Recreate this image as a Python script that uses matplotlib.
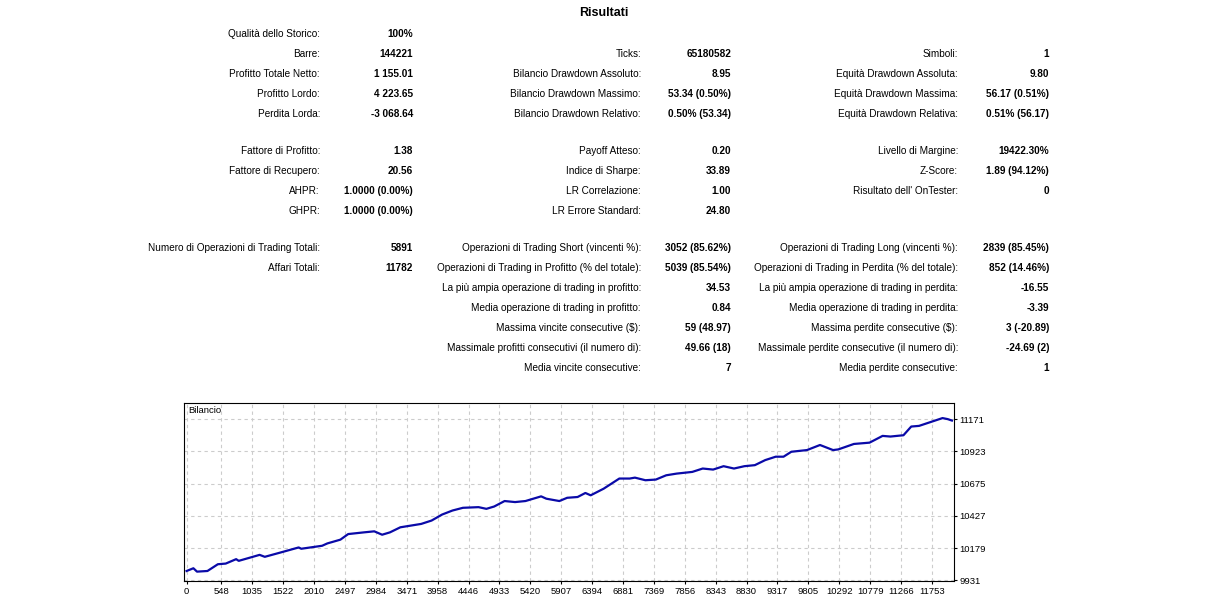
import matplotlib.pyplot as plt

plt.rcParams['font.family'] = ['Liberation Sans', 'DejaVu Sans']

# rows of the report
row_y = [34, 54, 74, 94, 114, 151, 171, 191, 211]
col1 = [("Qualità dello Storico:", "100%"), ("Barre:", "144221"), ("Profitto Totale Netto:", "1 155.01"),
        ("Profitto Lordo:", "4 223.65"), ("Perdita Lorda:", "-3 068.64"), ("Fattore di Profitto:", "1.38"),
        ("Fattore di Recupero:", "20.56"), ("AHPR:", "1.0000 (0.00%)"), ("GHPR:", "1.0000 (0.00%)")]
col2 = [None, ("Ticks:", "65180582"), ("Bilancio Drawdown Assoluto:", "8.95"),
        ("Bilancio Drawdown Massimo:", "53.34 (0.50%)"), ("Bilancio Drawdown Relativo:", "0.50% (53.34)"),
        ("Payoff Atteso:", "0.20"), ("Indice di Sharpe:", "33.89"), ("LR Correlazione:", "1.00"),
        ("LR Errore Standard:", "24.80")]
col3 = [None, ("Simboli:", "1"), ("Equità Drawdown Assoluta:", "9.80"),
        ("Equità Drawdown Massima:", "56.17 (0.51%)"), ("Equità Drawdown Relativa:", "0.51% (56.17)"),
        ("Livello di Margine:", "19422.30%"), ("Z-Score:", "1.89 (94.12%)"), ("Risultato dell' OnTester:", "0"),
        None]

row_y2 = [248, 268, 288, 308, 328, 348, 368]
col1b = [("Numero di Operazioni di Trading Totali:", "5891"), ("Affari Totali:", "11782"),
         None, None, None, None, None]
col2b = [("Operazioni di Trading Short (vincenti %):", "3052 (85.62%)"),
         ("Operazioni di Trading in Profitto (% del totale):", "5039 (85.54%)"),
         ("La più ampia operazione di trading in profitto:", "34.53"),
         ("Media operazione di trading in profitto:", "0.84"),
         ("Massima vincite consecutive ($):", "59 (48.97)"),
         ("Massimale profitti consecutivi (il numero di):", "49.66 (18)"),
         ("Media vincite consecutive:", "7")]
col3b = [("Operazioni di Trading Long (vincenti %):", "2839 (85.45%)"),
         ("Operazioni di Trading in Perdita (% del totale):", "852 (14.46%)"),
         ("La più ampia operazione di trading in perdita:", "-16.55"),
         ("Media operazione di trading in perdita:", "-3.39"),
         ("Massima perdite consecutive ($):", "3 (-20.89)"),
         ("Massimale perdite consecutive (il numero di):", "-24.69 (2)"),
         ("Media perdite consecutive:", "1")]

# balance curve (deal number, balance)
deals = [0, 107, 164, 329, 493, 617, 781, 822, 1151, 1233, 1480, 1767, 1808, 2137, 2219, 2425, 2548,
         2795, 2959, 3083, 3206, 3370, 3699, 3863, 4028, 4192, 4357, 4603, 4727, 4850, 5014, 5179,
         5343, 5590, 5672, 5877, 6001, 6165, 6288, 6371, 6576, 6823, 6987, 7069, 7234, 7398, 7562,
         7727, 7973, 8138, 8302, 8467, 8631, 8795, 8960, 9124, 9289, 9412, 9535, 9782, 9987, 10193,
         10275, 10522, 10768, 10974, 11097, 11303, 11426, 11549, 11919, 12001, 12067]
balance = [10003, 10024, 9998, 10003, 10055, 10060, 10094, 10081, 10127, 10112, 10145, 10184, 10174,
           10197, 10215, 10244, 10287, 10300, 10308, 10282, 10300, 10339, 10365, 10391, 10437, 10468,
           10489, 10494, 10481, 10499, 10541, 10533, 10541, 10577, 10559, 10541, 10566, 10572, 10603,
           10585, 10636, 10714, 10714, 10721, 10701, 10706, 10739, 10752, 10765, 10791, 10783, 10809,
           10791, 10809, 10817, 10856, 10882, 10882, 10920, 10933, 10972, 10933, 10938, 10980, 10990,
           11042, 11037, 11047, 11114, 11119, 11179, 11171, 11160]
y_ticks = [9931, 10179, 10427, 10675, 10923, 11171]
x_ticks = [0, 548, 1035, 1522, 2010, 2497, 2984, 3471, 3958, 4446, 4933, 5420, 5907, 6394, 6881,
           7369, 7856, 8343, 8830, 9317, 9805, 10292, 10779, 11266, 11753]

W, H = 1225, 615
fig = plt.figure(figsize=(W / 100, H / 100), dpi=100)
fs = 7.2


def put(px, py, s, bold=False, ha="right", size=fs):
    fig.text(px / W, 1 - py / H, s, ha=ha, va="center", fontsize=size,
             fontweight="bold" if bold else "normal", color="black")


put(604, 13, "Risultati", bold=True, ha="center", size=9)

for rows, ys, lx, vx in [(col1, row_y, 320, 413), (col2, row_y, 641, 731), (col3, row_y, 958, 1049),
                         (col1b, row_y2, 320, 413), (col2b, row_y2, 641, 731), (col3b, row_y2, 958, 1049)]:
    for item, y in zip(rows, ys):
        if item is None:
            continue
        put(lx, y, item[0])
        put(vx, y, item[1], bold=True)

ax = fig.add_axes([184 / W, 1 - 581 / H, 770 / W, 178 / H])
ax.plot(deals, balance, color="#0a0aa8", lw=1.6)
ax.set_xlim(-41, 12100)
ax.set_ylim(9926, 11295)
ax.set_yticks(y_ticks)
ax.set_xticks(x_ticks)
ax.yaxis.tick_right()
ax.tick_params(labelsize=6.8, length=2, pad=2)
ax.grid(True, ls=(0, (3, 3)), color="#cccccc", lw=0.8)
ax.text(0.005, 0.985, "Bilancio", transform=ax.transAxes, ha="left", va="top", fontsize=6.8)
for s in ax.spines.values():
    s.set_linewidth(0.8)

fig.savefig("out.png", dpi=100)
